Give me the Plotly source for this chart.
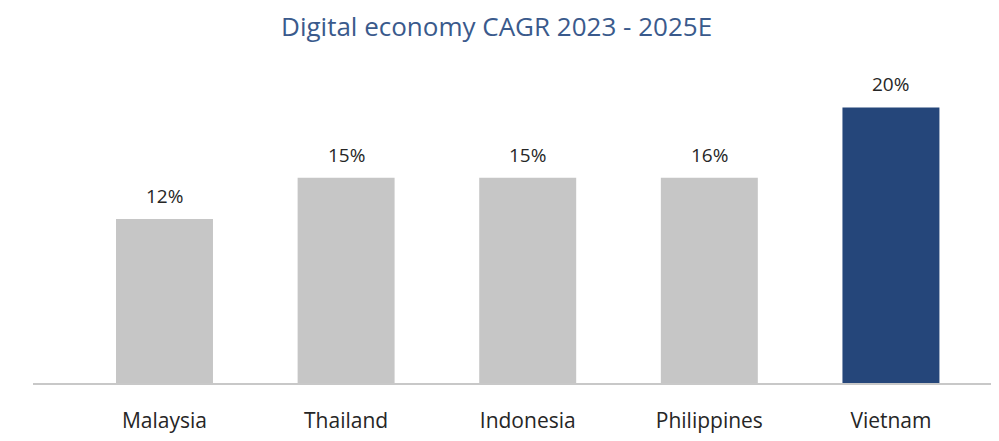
import plotly.graph_objects as go

countries = ["Malaysia", "Thailand", "Indonesia", "Philippines", "Vietnam"]
cagr = [11.9, 14.9, 14.9, 14.9, 20.0]
value_labels = ["12%", "15%", "15%", "16%", "20%"]
bar_colors = ["#c6c6c6", "#c6c6c6", "#c6c6c6", "#c6c6c6", "#25467a"]

FONT = "Open Sans"

fig = go.Figure()
fig.add_trace(go.Bar(
    x=countries, y=cagr,
    marker=dict(color=bar_colors, line=dict(width=0)),
    hoverinfo="skip",
))

for c, v, t in zip(countries, cagr, value_labels):
    fig.add_annotation(
        x=c, y=v, text=t, showarrow=False, yanchor="bottom", yshift=8,
        font=dict(family=FONT, size=19, color="#262626"),
    )

fig.update_layout(
    width=991, height=433,
    margin=dict(l=25, r=0, t=52, b=58),
    paper_bgcolor="white", plot_bgcolor="white",
    bargap=0.466,
    showlegend=False,
    title=dict(
        text="Digital economy CAGR 2023 - 2025E",
        x=0.493, xanchor="center", y=0.956, yanchor="middle",
        font=dict(family=FONT, size=26, color="#3a5a8c"),
    ),
    xaxis=dict(
        range=[-0.724, 4.595],
        showgrid=False, zeroline=False,
        showline=True, linecolor="#c8c8c8", linewidth=2,
        ticks="", ticklabelstandoff=18,
        tickfont=dict(family=FONT, size=21, color="#262626"),
    ),
    yaxis=dict(
        range=[0, 23.44], visible=False, showgrid=False, zeroline=False,
    ),
)

fig.write_html("out.html")
